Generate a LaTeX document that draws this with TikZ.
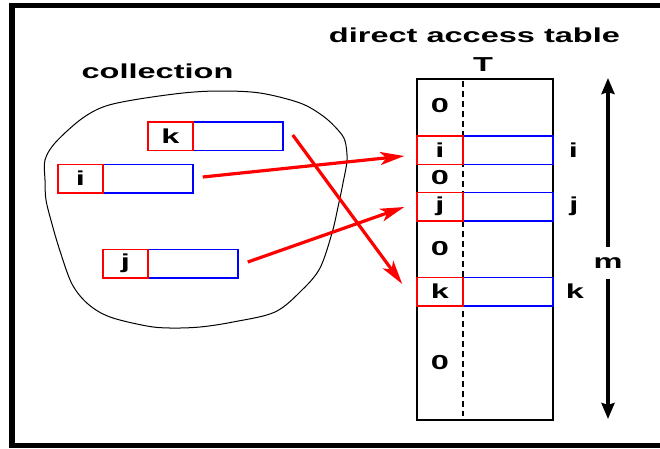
\documentclass[tikz,border=0pt]{standalone}
\usepackage{fontspec}
\setmainfont{Liberation Sans}[FakeStretch=1.61]
\usetikzlibrary{arrows.meta,calc}

\begin{document}
\begin{tikzpicture}[x=1pt,y=-1pt,
  lbl/.style={font=\bfseries\fontsize{20.2}{24}\selectfont, inner sep=0pt},
  keycell/.style={lbl, draw=red, line width=1.5pt, minimum width=45pt, minimum height=28.5pt},
  datacell/.style={draw=blue, line width=1.5pt, minimum width=90pt, minimum height=28.5pt, inner sep=0pt},
  pointer/.style={red, line width=3.2pt, -{Stealth[length=24pt,width=13pt,inset=6pt]}},
  span/.style={line width=4.5pt, -{Stealth[length=16pt,width=13pt,inset=2pt]}}]

\useasboundingbox (0,0) rectangle (660,448);

% frame (open on the right)
\draw[line width=5.5pt] (670,5.5) -- (12,5.5) -- (12,445.5) -- (670,445.5);

% titles
\node[lbl, anchor=base] (coll) at (157.5,78) {collection};
\node[lbl, anchor=base] (dat) at (474.5,42) {direct access table};
\node[lbl, anchor=base] (T) at (483,71) {T};

% the collection outline
\draw[line width=1pt] plot[smooth cycle, tension=0.55] coordinates {
  (45,160) (55,143) (80,120) (103,107) (133,100) (183,93) (220,91) (260,93)
  (300,103) (323,116) (338,130) (345,141) (347,160) (343,183) (338,207)
  (332,233) (320,268) (302,290) (275,312) (233,322) (200,327) (170,328)
  (147,326) (110,317) (88,304) (72,284) (60,251) (52,224) (46,200) (45,180)};

% elements of the collection
\node[datacell] (kd) at (238,136) {};
\node[keycell] (kk) at (170.5,136) {k};
\node[datacell] (id) at (148,178.5) {};
\node[keycell] (ik) at (80.5,178.5) {i};
\node[datacell] (jd) at (193,263.5) {};
\node[keycell] (jk) at (125.5,263.5) {j};

% the table T
\node[draw, line width=1.5pt, minimum width=136pt, minimum height=341pt, inner sep=0pt] (tbl) at (485,249.5) {};
\draw[line width=1.5pt, dash pattern=on 6pt off 4pt] (463,81) -- (463,416);

\node[datacell] (tid) at (508,150) {};
\node[keycell, minimum width=46pt] (tik) at (440,150) {i};
\node[datacell] (tjd) at (508,206.5) {};
\node[keycell, minimum width=46pt] (tjk) at (440,206.5) {j};
\node[datacell] (tkd) at (508,291.5) {};
\node[keycell, minimum width=46pt] (tkk) at (440,291.5) {k};

\node[lbl] (z1) at (440,106) {0};
\node[lbl] (z2) at (440,178) {0};
\node[lbl] (z3) at (440,248.5) {0};
\node[lbl] (z4) at (440,363) {0};

% slot indices
\node[lbl] (ri) at (573.5,150) {i};
\node[lbl] (rj) at (574,206.5) {j};
\node[lbl] (rk) at (575,291.5) {k};

% size of the table
\node[lbl, minimum height=32pt] (m) at (608,263) {m};
\coordinate (mtop) at (608,78);
\coordinate (mbot) at (608,419);
\draw[span] (m.north) -- (mtop);
\draw[span] (m.south) -- (mbot);

% pointers from the elements into their slots
\coordinate (is) at ($(id.east)+(9,-1.5)$);
\coordinate (ie) at ($(tik.west)+(-12,6)$);
\coordinate (js) at ($(jd.east)+(9,-1.5)$);
\coordinate (je) at ($(tjk.west)+(-12,0.5)$);
\coordinate (ks) at ($(kd.east)+(9,-1)$);
\coordinate (ke) at ($(tkk.west)+(-14,-7.5)$);
\draw[pointer] (is) -- (ie);
\draw[pointer] (js) -- (je);
\draw[pointer] (ks) -- (ke);

\end{tikzpicture}
\end{document}
